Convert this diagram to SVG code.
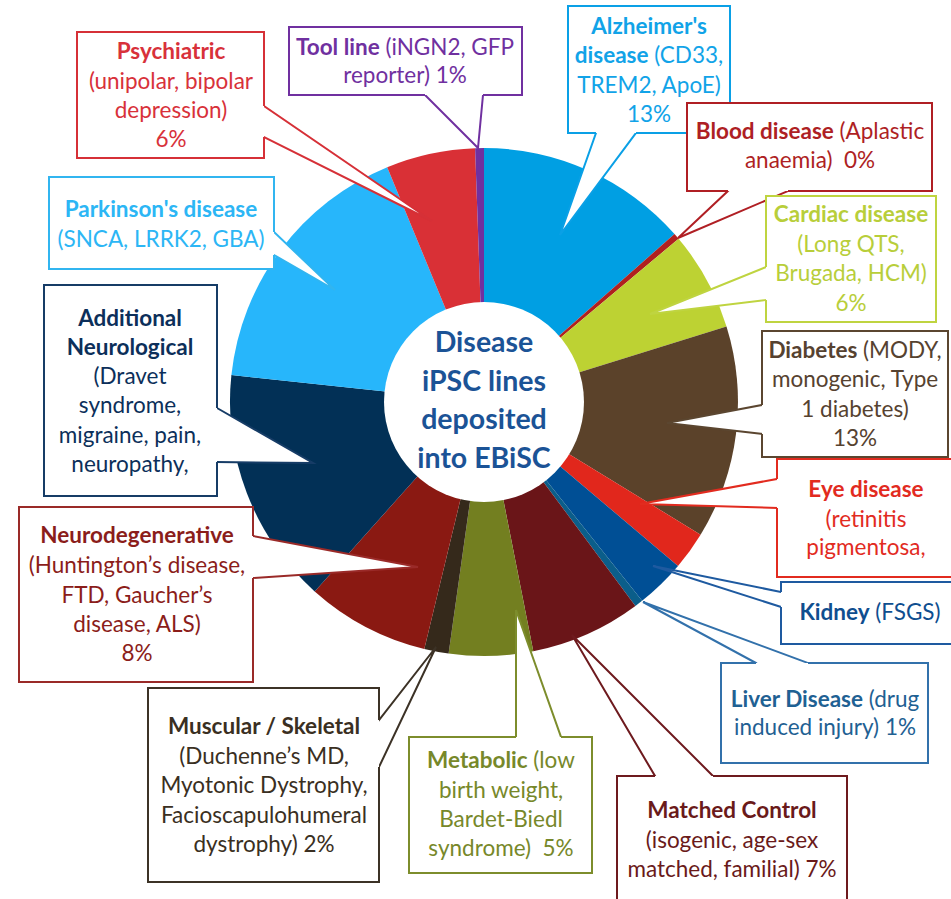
<svg xmlns="http://www.w3.org/2000/svg" width="951" height="899" viewBox="0 0 951 899">
<style>
.t{font-family:Lato,"Liberation Sans",sans-serif;font-size:22.5px;text-anchor:middle}
.b{font-weight:bold}
.box{fill:#fff;stroke-width:2;stroke-linejoin:miter}
.ptr{fill:#fff;stroke-width:2;stroke-linejoin:miter;stroke-linecap:square}
.ctr{font-family:Lato,"Liberation Sans",sans-serif;font-size:28.5px;font-weight:bold;fill:#1B5396;text-anchor:middle}
</style>
<rect width="951" height="899" fill="#fff"/>
<g id="pie">
<path d="M484,402 L484,148 A254,254 0 0 1 674.5,234.0 Z" fill="#009FE3"/>
<path d="M484,402 L674.5,234.0 A254,254 0 0 1 678.6,238.7 Z" fill="#B0201F"/>
<path d="M484,402 L678.6,238.7 A254,254 0 0 1 726.5,326.5 Z" fill="#BDD233"/>
<path d="M484,402 L726.5,326.5 A254,254 0 0 1 700.6,534.7 Z" fill="#5B422A"/>
<path d="M484,402 L700.6,534.7 A254,254 0 0 1 678.0,566.0 Z" fill="#E1271C"/>
<path d="M484,402 L678.0,566.0 A254,254 0 0 1 642.1,600.8 Z" fill="#004F95"/>
<path d="M484,402 L642.1,600.8 A254,254 0 0 1 635.4,605.9 Z" fill="#0B5E8A"/>
<path d="M484,402 L635.4,605.9 A254,254 0 0 1 533.3,651.2 Z" fill="#6A1518"/>
<path d="M484,402 L533.3,651.2 A254,254 0 0 1 448.6,653.5 Z" fill="#737F20"/>
<path d="M484,402 L448.6,653.5 A254,254 0 0 1 424.3,648.9 Z" fill="#35291B"/>
<path d="M484,402 L424.3,648.9 A254,254 0 0 1 314.7,591.4 Z" fill="#8A1912"/>
<path d="M484,402 L314.7,591.4 A254,254 0 0 1 231.4,375.0 Z" fill="#023056"/>
<path d="M484,402 L231.4,375.0 A254,254 0 0 1 387.2,167.2 Z" fill="#27B6FB"/>
<path d="M484,402 L387.2,167.2 A254,254 0 0 1 475.1,148.2 Z" fill="#D93036"/>
<path d="M484,402 L475.1,148.2 A254,254 0 0 1 484,148 Z" fill="#7030A0"/>
<circle cx="484" cy="402" r="100" fill="#fff"/>
</g>
<g id="connectors">
<path class="ptr" stroke="#D63037" d="M264,106 L432,221 L264,137"/>
<path class="ptr" stroke="#7030A0" d="M425,95 L478,148 L483,95"/>
<path class="ptr" stroke="#0AA0E6" d="M596,133 L560,235 L636,133"/>
<path class="ptr" stroke="#B01F24" d="M728,191 L678,238 L788,191"/>
<path class="ptr" stroke="#BFD440" d="M766,267 L650,314 L766,300"/>
<path class="ptr" stroke="#5B4630" d="M762,405 L667,423 L762,434"/>
<path class="ptr" stroke="#E22B1F" d="M777,479 L640,504 L777,508"/>
<path class="ptr" stroke="#1E5AA0" d="M781,592 L653,566 L781,607"/>
<path class="ptr" stroke="#3271AB" d="M756,663 L643,602 L808,663"/>
<path class="ptr" stroke="#6E1A1E" d="M655,776 L572,635 L713,776"/>
<path class="ptr" stroke="#7D8D2C" d="M516,737 L516,610 L561,737"/>
<path class="ptr" stroke="#3C3226" d="M379,720 L436,647 L379,767"/>
<path class="ptr" stroke="#9A2A28" d="M253,536 L418,567 L253,578"/>
<path class="ptr" stroke="#163C66" d="M217,408 L313,463 L217,462"/>
<path class="ptr" stroke="#31B5F0" d="M274,232 L335,290 L274,255"/>
</g>
<g id="psychiatric">
<path class="box" stroke="#D63037" d="M264,106 V32 H77 V158 H264 V137"/>
<text class="t" fill="#D8313A"><tspan class="b" x="171" y="59">Psychiatric</tspan><tspan x="171" y="89">(unipolar, bipolar</tspan><tspan x="171" y="118">depression)</tspan><tspan x="171" y="147">6%</tspan></text>
</g>
<g id="tool-line">
<path class="box" stroke="#7030A0" d="M425,95 H289 V27 H522 V95 H483"/>
<text class="t" fill="#7030A0"><tspan x="405" y="55"><tspan class="b">Tool line</tspan> (iNGN2, GFP</tspan><tspan x="405" y="83">reporter) 1%</tspan></text>
</g>
<g id="alzheimers">
<path class="box" stroke="#0AA0E6" d="M596,133 H568 V6 H730 V133 H636"/>
<text class="t" fill="#11A3E8"><tspan class="b" x="649" y="34">Alzheimer's</tspan><tspan x="649" y="63"><tspan class="b">disease</tspan> (CD33,</tspan><tspan x="649" y="93">TREM2, ApoE)</tspan><tspan x="649" y="122">13%</tspan></text>
</g>
<g id="blood-disease">
<path class="box" stroke="#B01F24" d="M728,191 H687 V103 H932 V191 H788"/>
<text class="t" fill="#AE1F24"><tspan x="810" y="139"><tspan class="b">Blood disease</tspan> (Aplastic</tspan><tspan x="810" y="168">anaemia)&#160; 0%</tspan></text>
</g>
<g id="cardiac-disease">
<path class="box" stroke="#BFD440" d="M766,267 V196 H936 V322 H766 V300"/>
<text class="t" fill="#B8CE3A"><tspan class="b" x="851" y="222">Cardiac disease</tspan><tspan x="851" y="252">(Long QTS,</tspan><tspan x="851" y="281">Brugada, HCM)</tspan><tspan x="851" y="311">6%</tspan></text>
</g>
<g id="diabetes">
<path class="box" stroke="#5B4630" d="M762,405 V331 H948 V457 H762 V434"/>
<text class="t" fill="#564230"><tspan x="855" y="358"><tspan class="b">Diabetes</tspan> (MODY,</tspan><tspan x="855" y="387">monogenic, Type</tspan><tspan x="855" y="417">1 diabetes)</tspan><tspan x="855" y="446">13%</tspan></text>
</g>
<g id="eye-disease">
<path class="box" stroke="#E22B1F" d="M777,479 V459 H956 V577 H777 V508"/>
<text class="t" fill="#E22B1F"><tspan class="b" x="866" y="497">Eye disease</tspan><tspan x="866" y="527">(retinitis</tspan><tspan x="866" y="555">pigmentosa,</tspan></text>
</g>
<g id="kidney">
<path class="box" stroke="#1E5AA0" d="M781,592 V582 H956 V644 H781 V607"/>
<text class="t" fill="#0F4E8F"><tspan x="870" y="620"><tspan class="b">Kidney</tspan> (FSGS)</tspan></text>
</g>
<g id="liver-disease">
<path class="box" stroke="#3271AB" d="M756,663 H721 V763 H928 V663 H808"/>
<text class="t" fill="#1F6193"><tspan x="825" y="707"><tspan class="b">Liver Disease</tspan> (drug</tspan><tspan x="825" y="735">induced injury) 1%</tspan></text>
</g>
<g id="matched-control">
<path class="box" stroke="#6E1A1E" d="M655,776 H617 V905 H847 V776 H713"/>
<text class="t" fill="#6A1A1A"><tspan class="b" x="732" y="818">Matched Control</tspan><tspan x="732" y="848">(isogenic, age-sex</tspan><tspan x="732" y="877">matched, familial) 7%</tspan></text>
</g>
<g id="metabolic">
<path class="box" stroke="#7D8D2C" d="M516,737 H409 V873 H592 V737 H561"/>
<text class="t" fill="#77882A"><tspan x="501" y="768"><tspan class="b">Metabolic</tspan> (low</tspan><tspan x="501" y="798">birth weight,</tspan><tspan x="501" y="827">Bardet-Biedl</tspan><tspan x="501" y="856">syndrome)&#160; 5%</tspan></text>
</g>
<g id="muscular-skeletal">
<path class="box" stroke="#3C3226" d="M379,720 V688 H148 V882 H379 V767"/>
<text class="t" fill="#3A2F22"><tspan class="b" x="264" y="734">Muscular / Skeletal</tspan><tspan x="264" y="764">(Duchenne’s MD,</tspan><tspan x="264" y="793">Myotonic Dystrophy,</tspan><tspan x="264" y="823">Facioscapulohumeral</tspan><tspan x="264" y="852">dystrophy) 2%</tspan></text>
</g>
<g id="neurodegenerative">
<path class="box" stroke="#9A2A28" d="M253,536 V507 H19 V682 H253 V578"/>
<text class="t" fill="#8B1D1A"><tspan class="b" x="137" y="543">Neurodegenerative</tspan><tspan x="137" y="573">(Huntington’s disease,</tspan><tspan x="137" y="603">FTD, Gaucher’s</tspan><tspan x="137" y="632">disease, ALS)</tspan><tspan x="137" y="661">8%</tspan></text>
</g>
<g id="additional-neurological">
<path class="box" stroke="#163C66" d="M217,408 V285 H44 V496 H217 V462"/>
<text class="t" fill="#0C2F5A"><tspan class="b" x="130" y="326">Additional</tspan><tspan class="b" x="130" y="355">Neurological</tspan><tspan x="130" y="384">(Dravet</tspan><tspan x="130" y="413">syndrome,</tspan><tspan x="130" y="443">migraine, pain,</tspan><tspan x="130" y="472">neuropathy,</tspan></text>
</g>
<g id="parkinsons">
<path class="box" stroke="#31B5F0" d="M274,232 V177 H49 V269 H274 V255"/>
<text class="t" fill="#2CB6F5"><tspan class="b" x="161" y="217">Parkinson's disease</tspan><tspan x="161" y="247">(SNCA, LRRK2, GBA)</tspan></text>
</g>
<g id="centre">
<text class="ctr"><tspan x="484" y="352">Disease</tspan><tspan x="484" y="391">iPSC lines</tspan><tspan x="484" y="429">deposited</tspan><tspan x="484" y="468">into EBiSC</tspan></text>
</g>
</svg>
